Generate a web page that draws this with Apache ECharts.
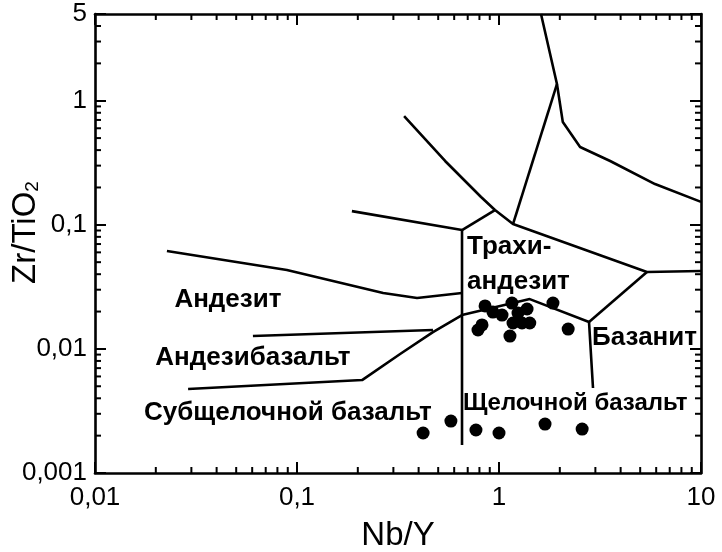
<!DOCTYPE html>
<html><head><meta charset="utf-8">
<script src="https://cdn.jsdelivr.net/npm/echarts@6/dist/echarts.min.js"></script>
<style>html,body{margin:0;padding:0;background:#fff}#c{width:722px;height:552px}</style>
</head><body><div id="c"></div>
<script>
// ---- data (Nb/Y, Zr/TiO2) ----
const xTickLabels = ['0,01', '0,1', '1', '10'];
const yTickLabels = ['0,001', '0,01', '0,1', '1', '5'];
const xTickVals = [0.01, 0.1, 1, 10];
const yTickVals = [0.001, 0.01, 0.1, 1, 5];
const xRange = [0.01, 10];
const yRange = [0.001, 5];

// field boundaries
const lineA = [[1.614, 5.0], [1.936, 1.363], [2.07, 0.673], [2.52, 0.424], [3.55, 0.327], [5.92, 0.213], [10, 0.153]];
const lineB = [[1.173, 0.1014], [1.936, 1.363]];
const lineC = [[0.339, 0.753], [0.541, 0.327], [0.815, 0.1675], [0.955, 0.1315], [1.173, 0.1014], [5.40, 0.0417], [10, 0.0425]];
const lineShort = [[0.656, 0.0908], [0.955, 0.1315]];
const lineVert = [[0.656, 0.0908], [0.656, 0.00168]];
const lineD = [[0.187, 0.129], [0.656, 0.0908]];
const lineAndesite = [[0.0227, 0.0615], [0.0891, 0.0433], [0.267, 0.0282], [0.393, 0.0257], [0.656, 0.0282]];
const lineAndBas = [[0.0605, 0.0127], [0.471, 0.0142]];
const lineLower = [[0.0289, 0.00475], [0.210, 0.00561], [0.324, 0.0091], [0.471, 0.01367], [0.656, 0.01875], [1.42, 0.0252], [2.79, 0.0165], [2.92, 0.00484]];
const lineBasanite = [[2.79, 0.0165], [5.40, 0.0417]];

// samples
const samples = [
  [0.853, 0.0222], [0.933, 0.0198], [1.035, 0.01875], [1.159, 0.0234], [1.242, 0.01945],
  [1.377, 0.02097], [1.173, 0.01617], [1.30, 0.01617], [1.42, 0.01617], [0.824, 0.0156],
  [0.787, 0.0142], [1.133, 0.0127], [1.85, 0.0234], [2.20, 0.01445],
  [0.421, 0.0021], [0.578, 0.00262], [0.769, 0.00222], [1.0, 0.0021], [1.69, 0.00248], [2.58, 0.00226]
];

// field names
const zoneNames = ['Андезит', 'Андезибазальт', 'Субщелочной базальт', 'Трахи-', 'андезит', 'Базанит', 'Щелочной базальт'];
const zoneAnchors = [[0.0455, 0.0248], [0.0605, 0.00846], [0.0901, 0.00304], [0.695, 0.0662], [0.695, 0.0346], [2.89, 0.01225], [0.664, 0.00366]];
const zoneAlign = ['center', 'center', 'center', 'left', 'left', 'left', 'left'];
const zoneFontSize = [26, 26, 26, 26, 26, 26, 24];

const minorMult = [2, 3, 4, 5, 6, 7, 8, 9];
const xDecades = [0.01, 0.1, 1];
const yDecades = [0.001, 0.01, 0.1, 1];

const FONT = '"Liberation Sans", Arial, sans-serif';

function fmt(v, labels, ticks) {
  for (let i = 0; i < ticks.length; i++) {
    if (Math.abs(Math.log10(v) - Math.log10(ticks[i])) < 1e-6) return labels[i];
  }
  return '';
}

const minorX = [];
xDecades.forEach(d => minorMult.forEach(m => minorX.push([d * m, 1])));
const minorY = [];
yDecades.forEach(d => minorMult.forEach(m => { if (d * m < yRange[1]) minorY.push([d * m, 0]); }));

const chart = echarts.init(document.getElementById('c'), null, { renderer: 'canvas' });

const boundaryStyle = { color: '#000', width: 2.6 };
function bline(data) {
  return { type: 'line', data: data, showSymbol: false, symbol: 'none', silent: true,
    lineStyle: boundaryStyle, z: 3, animation: false };
}

const axisCommon = {
  type: 'log', logBase: 10,
  axisLine: { show: true, lineStyle: { color: '#000', width: 2.6 } },
  axisTick: { show: true, inside: true, length: 11, lineStyle: { color: '#000', width: 2 } },
  splitLine: { show: false },
  minorTick: { show: false },
  minorSplitLine: { show: false }
};

chart.setOption({
  animation: false,
  backgroundColor: '#fff',
  grid: { left: 95, right: 21, top: 14, bottom: 79, containLabel: false, outerBoundsMode: 'none' },
  xAxis: [
    Object.assign({}, axisCommon, {
      min: xRange[0], max: xRange[1], position: 'bottom',
      name: 'Nb/Y', nameLocation: 'middle', nameGap: 46, nameMoveOverlap: false,
      nameTextStyle: { fontFamily: FONT, fontSize: 33, color: '#000' },
      axisLabel: { fontFamily: FONT, fontSize: 26, color: '#000', margin: 12,
        formatter: v => fmt(v, xTickLabels, xTickVals) }
    }),
    Object.assign({}, axisCommon, {
      min: xRange[0], max: xRange[1], position: 'top', axisLabel: { show: false }
    })
  ],
  yAxis: [
    Object.assign({}, axisCommon, {
      min: yRange[0], max: yRange[1], position: 'left',
      name: '{a|Zr/TiO}{s|2}', nameLocation: 'middle', nameGap: 53, nameRotate: 90,
      nameMoveOverlap: false,
      nameTextStyle: { fontFamily: FONT, color: '#000', padding: [0, 0, 0, 22],
        rich: { a: { fontFamily: FONT, fontSize: 33, color: '#000', verticalAlign: 'bottom', lineHeight: 36 },
                s: { fontFamily: FONT, fontSize: 19, color: '#000', verticalAlign: 'bottom', lineHeight: 30 } } },
      axisLabel: { fontFamily: FONT, fontSize: 26, color: '#000', margin: 8,
        showMaxLabel: true,
        formatter: v => fmt(v, yTickLabels, yTickVals) }
    }),
    Object.assign({}, axisCommon, {
      min: yRange[0], max: yRange[1], position: 'right', axisLabel: { show: false }
    })
  ],
  series: [
    bline(lineA), bline(lineB), bline(lineC), bline(lineShort), bline(lineVert), bline(lineD),
    bline(lineAndesite), bline(lineAndBas), bline(lineLower), bline(lineBasanite),
    {
      type: 'scatter', data: samples, symbol: 'circle', symbolSize: 13,
      itemStyle: { color: '#000', opacity: 1 }, z: 4, silent: true
    },
    {
      type: 'scatter', silent: true, symbolSize: 0, z: 5,
      itemStyle: { color: '#000', opacity: 1 },
      data: zoneNames.map((n, i) => ({
        name: n, value: zoneAnchors[i],
        label: { show: true, formatter: '{b}', position: zoneAlign[i] === 'left' ? 'right' : 'inside',
          distance: 0, fontFamily: FONT, fontSize: zoneFontSize[i], fontWeight: 'bold', color: '#000',
          opacity: 1, textBorderWidth: 0,
          align: zoneAlign[i] === 'left' ? 'left' : 'center', verticalAlign: 'middle' }
      }))
    },
    {
      type: 'custom', silent: true, z: 6,
      data: minorX.concat(minorY),
      encode: { x: -1, y: -1 },
      renderItem: function (params, api) {
        const cs = params.coordSys;
        const v = api.value(0);
        const isX = api.value(1) === 1;
        const L = 6;
        const st = { stroke: '#000', lineWidth: 2 };
        if (isX) {
          const px = api.coord([v, yRange[0]])[0];
          return { type: 'group', children: [
            { type: 'line', shape: { x1: px, y1: cs.y + cs.height, x2: px, y2: cs.y + cs.height - L }, style: st },
            { type: 'line', shape: { x1: px, y1: cs.y, x2: px, y2: cs.y + L }, style: st }
          ] };
        } else {
          const py = api.coord([xRange[0], v])[1];
          return { type: 'group', children: [
            { type: 'line', shape: { x1: cs.x, y1: py, x2: cs.x + L, y2: py }, style: st },
            { type: 'line', shape: { x1: cs.x + cs.width, y1: py, x2: cs.x + cs.width - L, y2: py }, style: st }
          ] };
        }
      }
    }
  ]
});
</script>
</body></html>
